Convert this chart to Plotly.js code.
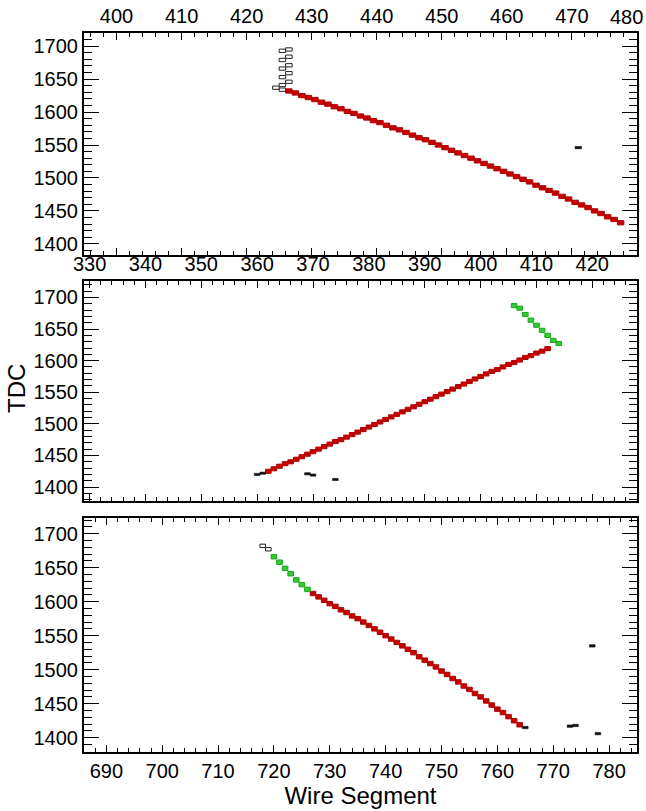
<!DOCTYPE html>
<html>
<head>
<meta charset="utf-8">
<script src="https://cdn.plot.ly/plotly-3.0.1.min.js"></script>
<style>html,body{margin:0;padding:0;background:#fff;}#chart{width:646px;height:811px;}</style>
</head>
<body>
<div id="chart"></div>
<script>
// ---------------- Panel 1 (top, wires 395-480) ----------------
const p1TickVals = [400,410,420,430,440,450,460,470,480];
const p1TickText = ['400','410','420','430','440','450','460','470','480'];
const p1RedWire = [426.5,427.5,428.5,429.5,430.5,431.5,432.5,433.5,434.5,435.5,436.5,437.5,438.5,439.5,440.5,441.5,442.5,443.5,444.5,445.5,446.5,447.5,448.5,449.5,450.5,451.5,452.5,453.5,454.5,455.5,456.5,457.5,458.5,459.5,460.5,461.5,462.5,463.5,464.5,465.5,466.5,467.5,468.5,469.5,470.5,471.5,472.5,473.5,474.5,475.5,476.5,477.5];
const p1RedTdc  = [1632,1629,1625,1622,1619,1615,1612,1608,1605,1601,1598,1594,1591,1587,1584,1580,1576,1573,1569,1565,1561,1558,1554,1550,1546,1542,1538,1534,1530,1526,1522,1518,1514,1510,1506,1502,1498,1494,1489,1485,1481,1477,1472,1468,1463,1459,1455,1450,1446,1441,1437,1432];
const p1OpenWire = [425.5,425.5,425.5,425.5,425.5,425.5,426.5,426.5,426.5,426.5,426.5,424.5];
const p1OpenTdc  = [1693,1679,1666,1653,1641,1634,1695,1684,1671,1659,1646,1637];
const p1DashWire = [471];
const p1DashTdc  = [1546];

// ---------------- Panel 2 (middle, wires 329-428) ----------------
const p2RedWire = [362,363,364,365,366,367,368,369,370,371,372,373,374,375,376,377,378,379,380,381,382,383,384,385,386,387,388,389,390,391,392,393,394,395,396,397,398,399,400,401,402,403,404,405,406,407,408,409,410,411,412];
const p2RedTdc  = [1425,1429,1433,1437,1440,1444,1448,1452,1456,1460,1464,1468,1472,1475,1479,1483,1487,1491,1495,1499,1503,1507,1511,1515,1519,1523,1527,1531,1535,1539,1543,1547,1551,1555,1559,1563,1567,1571,1575,1579,1583,1586,1590,1594,1597,1601,1605,1608,1612,1615,1619];
const p2GreenWire = [406,407,408,409,410,411,412,413,414];
const p2GreenTdc  = [1687,1683,1673,1664,1656,1648,1640,1632,1627];
const p2DashWire = [360,361,369,370,374];
const p2DashTdc  = [1420,1422,1421,1419,1412];

// ---------------- Panel 3 (bottom, wires 686-785) ----------------
const p3RedWire = [727,728,729,730,731,732,733,734,735,736,737,738,739,740,741,742,743,744,745,746,747,748,749,750,751,752,753,754,755,756,757,758,759,760,761,762,763,764];
const p3RedTdc  = [1612,1607,1602,1597,1593,1588,1584,1579,1575,1570,1565,1560,1555,1550,1545,1540,1535,1530,1525,1519,1514,1509,1504,1498,1493,1487,1482,1476,1471,1465,1460,1454,1448,1442,1437,1431,1425,1419];
const p3GreenWire = [720,721,722,723,724,725,726];
const p3GreenTdc  = [1666,1658,1649,1641,1632,1625,1618];
const p3OpenWire = [718,719];
const p3OpenTdc  = [1682,1677];
const p3DashWire = [765,773,774,777,778];
const p3DashTdc  = [1415,1417,1418,1535,1406];

// ---------------- helpers ----------------
function boxes(xs, ys, h, xa, ya, fill, line, lw) {
  return {
    type: 'bar', x: xs, y: xs.map(() => h), base: ys.map(v => v - h / 2),
    width: 1, xaxis: xa, yaxis: ya, hoverinfo: 'skip',
    marker: {color: fill, line: {color: line, width: lw}}
  };
}
const RED = '#c40000', REDL = '#b00000';
const GRN = '#38c838', GRNL = '#12aa12';

const data = [
  boxes(p1OpenWire, p1OpenTdc, 5, 'x3', 'y3', 'white', '#222', 1),
  boxes(p1RedWire, p1RedTdc, 6.5, 'x3', 'y3', RED, REDL, 1),
  boxes(p1DashWire, p1DashTdc, 3.5, 'x3', 'y3', '#111', '#111', 0.6),

  boxes(p2RedWire, p2RedTdc, 6.5, 'x2', 'y2', RED, REDL, 1),
  boxes(p2GreenWire, p2GreenTdc, 6.5, 'x2', 'y2', GRN, GRNL, 1),
  boxes(p2DashWire, p2DashTdc, 3.5, 'x2', 'y2', '#111', '#111', 0.6),

  boxes(p3OpenWire, p3OpenTdc, 5, 'x', 'y', 'white', '#222', 1),
  boxes(p3RedWire, p3RedTdc, 6.5, 'x', 'y', RED, REDL, 1),
  boxes(p3GreenWire, p3GreenTdc, 6.5, 'x', 'y', GRN, GRNL, 1),
  boxes(p3DashWire, p3DashTdc, 3.5, 'x', 'y', '#111', '#111', 0.6)
];

function xax(extra) {
  return Object.assign({
    showline: true, linecolor: 'black', linewidth: 2, mirror: 'allticks',
    ticks: 'inside', ticklen: 7, tickwidth: 1, tickcolor: 'black',
    dtick: 10, tick0: 0, showgrid: false, zeroline: false, fixedrange: true,
    minor: {dtick: 2, ticklen: 4, ticks: 'inside', tickcolor: 'black', tickwidth: 1, showgrid: false},
    tickfont: {size: 20, color: 'black'}
  }, extra);
}
function yax(extra) {
  return Object.assign({
    showline: true, linecolor: 'black', linewidth: 2, mirror: 'allticks',
    ticks: 'inside', ticklen: 15, tickwidth: 1, tickcolor: 'black',
    dtick: 50, tick0: 0, showgrid: false, zeroline: false, fixedrange: true,
    minor: {dtick: 10, ticklen: 8, ticks: 'inside', tickcolor: 'black', tickwidth: 1, showgrid: false},
    tickfont: {size: 20, color: 'black'}
  }, extra);
}

// the last top label sits at the right page edge: draw it right-aligned so it stays whole
const lastIdx = p1TickVals.length - 1;
const p1ShownText = p1TickText.map((t, i) => i === lastIdx ? '' : t);

const layout = {
  width: 646, height: 811,
  margin: {l: 84, r: 9, t: 33, b: 59, pad: 0},
  paper_bgcolor: 'white', plot_bgcolor: 'white',
  showlegend: false, barmode: 'overlay',
  font: {family: '"Liberation Sans", Arial, sans-serif', size: 20, color: 'black'},
  xaxis: xax({anchor: 'y', domain: [0, 1], range: [686, 785], side: 'bottom',
    title: {text: 'Wire Segment', font: {size: 24}, standoff: 6}}),
  yaxis: yax({anchor: 'x', domain: [0, 0.3255], range: [1379, 1723]}),
  xaxis2: xax({anchor: 'y2', domain: [0, 1], range: [329, 428], side: 'top'}),
  yaxis2: yax({anchor: 'x2', domain: [0.3491, 0.6551], range: [1378, 1726]}),
  xaxis3: xax({anchor: 'y3', domain: [0, 1], range: [395, 480.02], side: 'top',
    tickmode: 'array', tickvals: p1TickVals, ticktext: p1ShownText}),
  yaxis3: yax({anchor: 'x3', domain: [0.6912, 1], range: [1383, 1720]}),
  annotations: [{
    text: 'TDC', textangle: -90, showarrow: false,
    xref: 'paper', yref: 'paper', x: -0.1212, y: 0.5063,
    xanchor: 'center', yanchor: 'middle', font: {size: 24, color: 'black'}
  }, {
    text: p1TickText[lastIdx], showarrow: false,
    xref: 'x3', x: p1TickVals[lastIdx], xanchor: 'right', xshift: 8,
    yref: 'paper', y: 1.0223, yanchor: 'middle',
    font: {size: 20, color: 'black'}
  }]
};

Plotly.newPlot('chart', data, layout, {staticPlot: true, displayModeBar: false});
</script>
</body>
</html>
